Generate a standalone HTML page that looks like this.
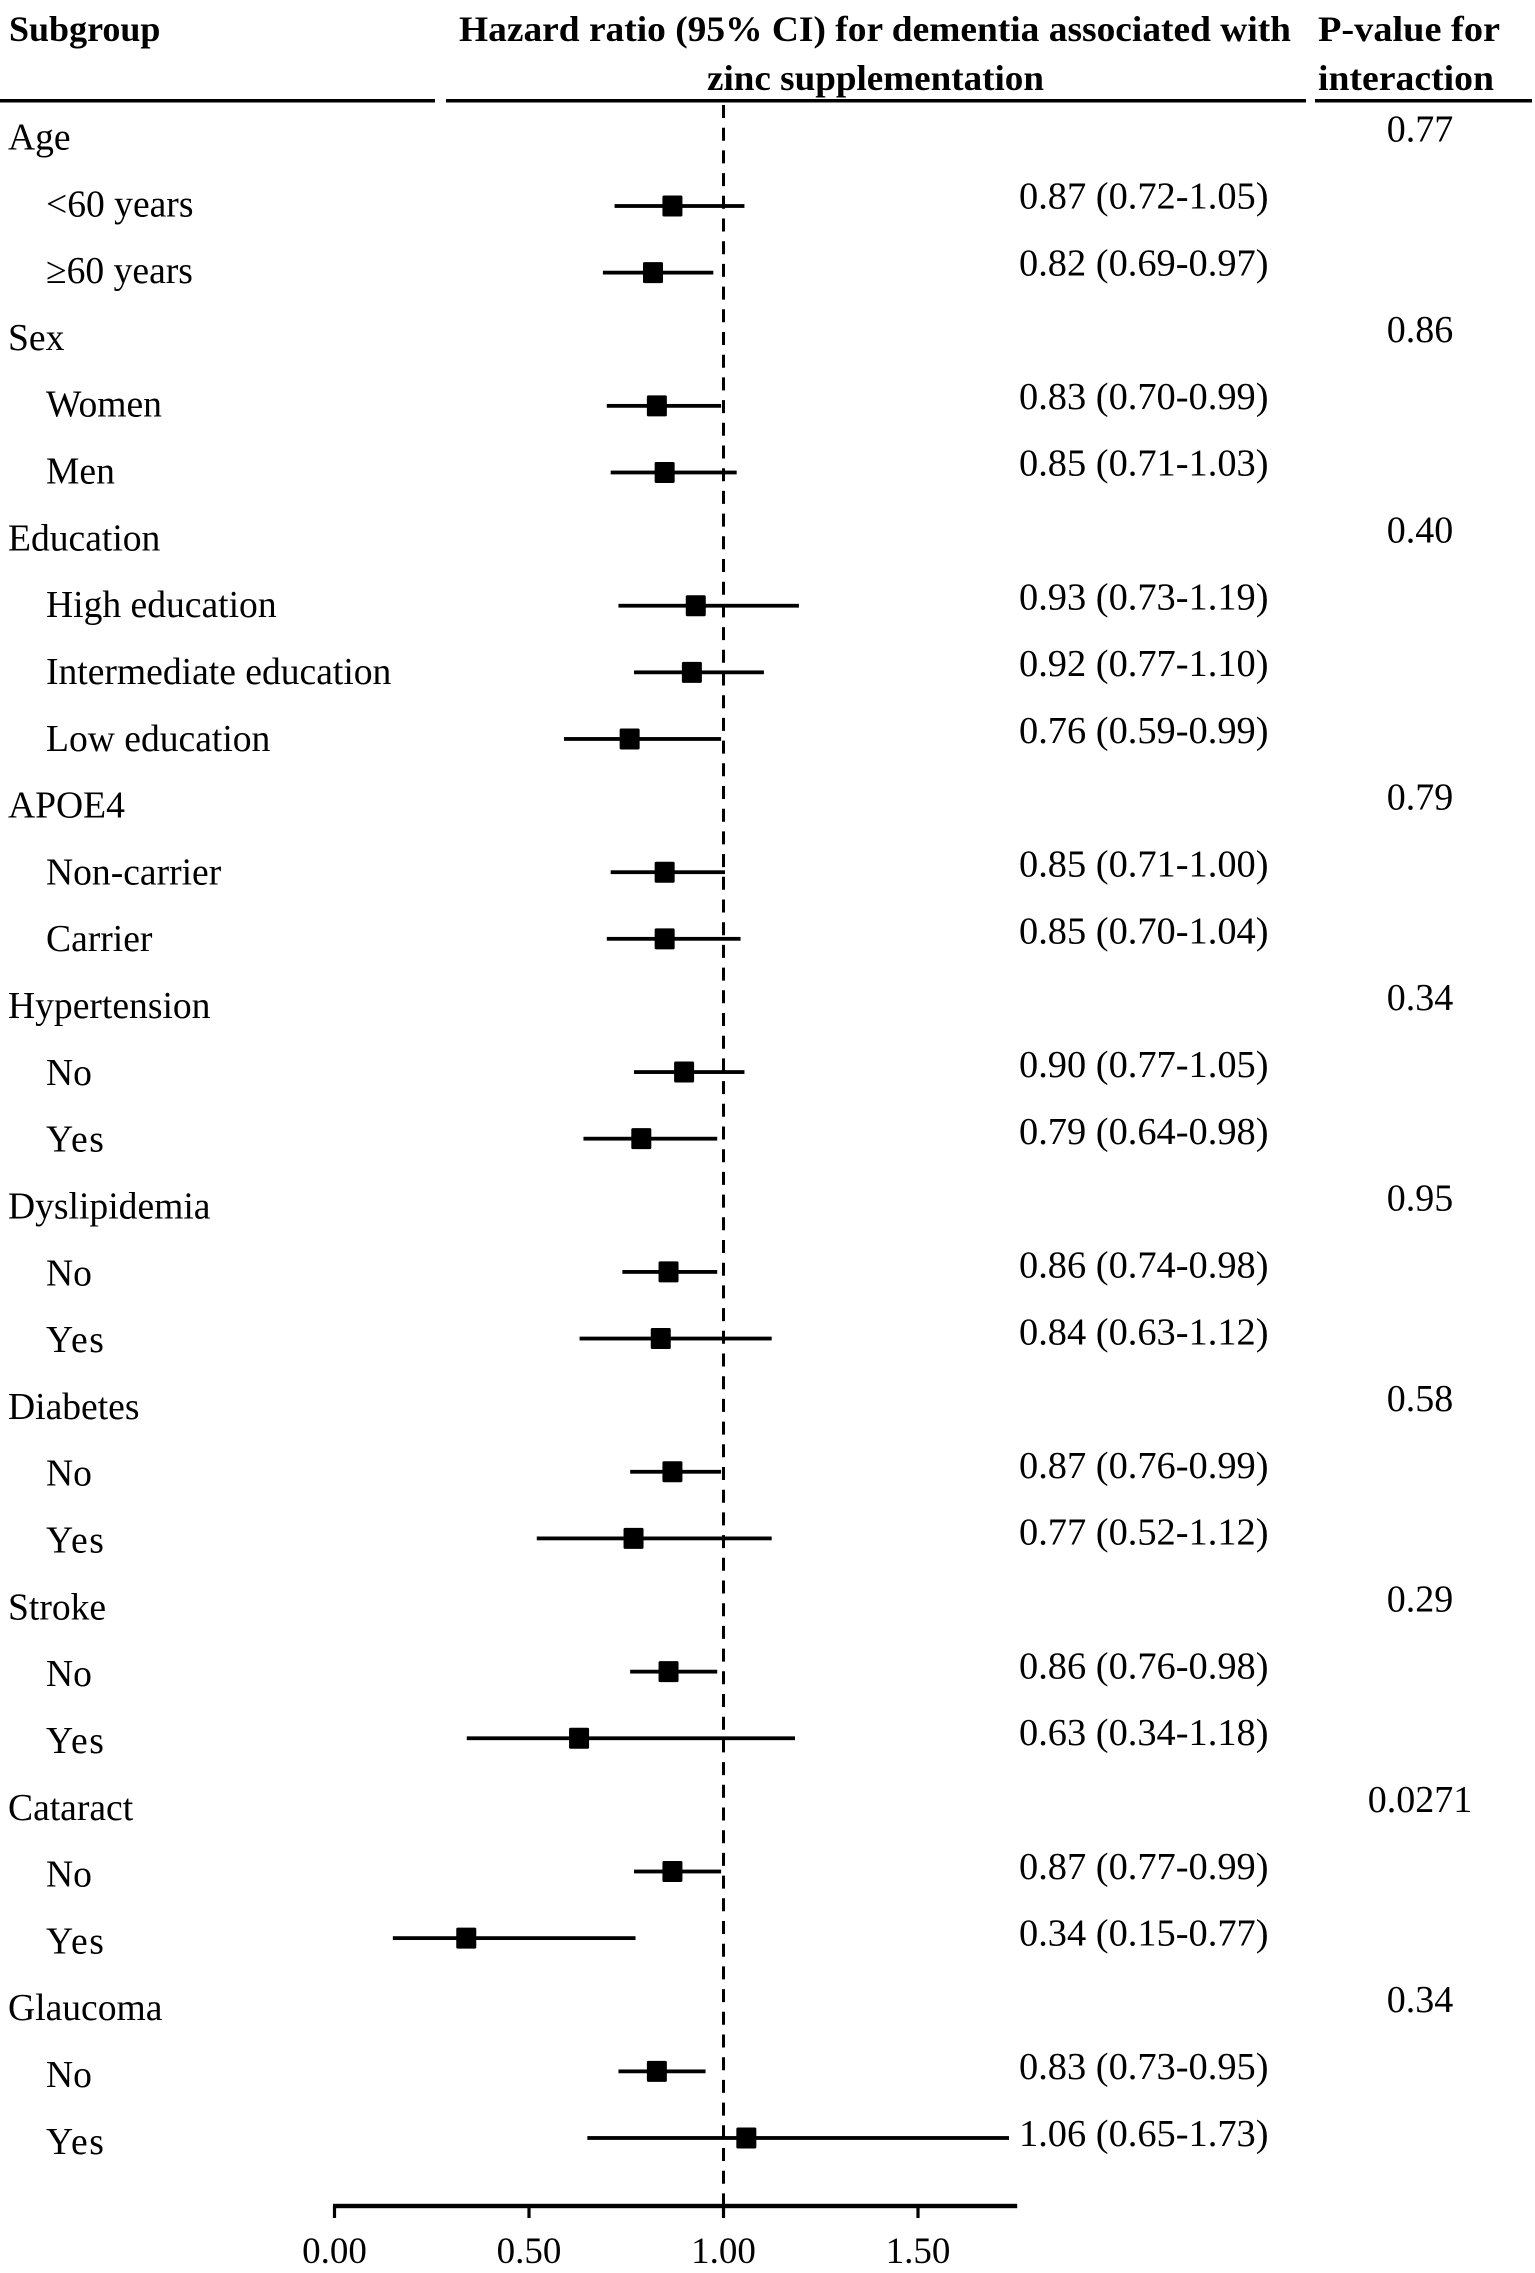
<!DOCTYPE html>
<html lang="en">
<head>
<meta charset="utf-8">
<title>Hazard ratio for dementia associated with zinc supplementation</title>
<style>
html,body{margin:0;padding:0;background:#fff;width:1535px;height:2273px;overflow:hidden}
svg{display:block}
text{font-family:"Liberation Serif","Times New Roman",serif;fill:#000}
.b{font-size:36px;font-weight:bold}
.t{font-size:37.6px}
</style>
</head>
<body>
<svg id="chart" xmlns="http://www.w3.org/2000/svg" width="1535" height="2273" viewBox="0 0 1535 2273">
  <g>
    <text class="b" x="9" y="41">Subgroup</text>
    <text class="b" x="459" y="41" textLength="832" lengthAdjust="spacingAndGlyphs">Hazard ratio (95% CI) for dementia associated with</text>
    <text class="b" x="707" y="90" textLength="337" lengthAdjust="spacingAndGlyphs">zinc supplementation</text>
    <text class="b" x="1318" y="41" textLength="182" lengthAdjust="spacingAndGlyphs">P-value for</text>
    <text class="b" x="1318" y="90" textLength="176" lengthAdjust="spacingAndGlyphs">interaction</text>
    <rect x="0" y="99" width="435" height="3.5" fill="#000"/>
    <rect x="446" y="99" width="860" height="3.5" fill="#000"/>
    <rect x="1315" y="99" width="217" height="3.5" fill="#000"/>
  </g>
  <g id="axis"></g>
  <g id="refline"></g>
  <g id="marks"></g>
  <g id="labels"></g>
  <g id="values"></g>
  <g id="pvalues"></g>
</svg>
<script>
const subgroupLabels = ["Age","<60 years","≥60 years","Sex","Women","Men","Education","High education","Intermediate education","Low education","APOE4","Non-carrier","Carrier","Hypertension","No","Yes","Dyslipidemia","No","Yes","Diabetes","No","Yes","Stroke","No","Yes","Cataract","No","Yes","Glaucoma","No","Yes"];
const hazardRatios = [null,0.87,0.82,null,0.83,0.85,null,0.93,0.92,0.76,null,0.85,0.85,null,0.90,0.79,null,0.86,0.84,null,0.87,0.77,null,0.86,0.63,null,0.87,0.34,null,0.83,1.06];
const ciLower = [null,0.72,0.69,null,0.70,0.71,null,0.73,0.77,0.59,null,0.71,0.70,null,0.77,0.64,null,0.74,0.63,null,0.76,0.52,null,0.76,0.34,null,0.77,0.15,null,0.73,0.65];
const ciUpper = [null,1.05,0.97,null,0.99,1.03,null,1.19,1.10,0.99,null,1.00,1.04,null,1.05,0.98,null,0.98,1.12,null,0.99,1.12,null,0.98,1.18,null,0.99,0.77,null,0.95,1.73];
const interactionP = ["0.77",null,null,"0.86",null,null,"0.40",null,null,null,"0.79",null,null,"0.34",null,null,"0.95",null,null,"0.58",null,null,"0.29",null,null,"0.0271",null,null,"0.34",null,null];
const tickValues = [0, 0.5, 1, 1.5];
const tickLabels = ["0.00","0.50","1.00","1.50"];
const referenceValue = 1;
const axisMax = 1.755;

const NS = "http://www.w3.org/2000/svg";
function xScale(v){ return 334.5 + v * 389; }
function markY(i){ return 206 + (i - 1) * 66.62; }
function labelY(i){ return 149.5 + i * 66.81; }
function valueY(i){ return 208.5 + (i - 1) * 66.81; }
function pY(i){ return 141.5 + i * 66.81; }
function make(tag, attrs, parent, content){
  const el = document.createElementNS(NS, tag);
  for (const k in attrs) el.setAttribute(k, attrs[k]);
  if (content !== undefined) el.textContent = content;
  parent.appendChild(el);
  return el;
}
const axisG = document.getElementById("axis");
const refG = document.getElementById("refline");
const marksG = document.getElementById("marks");
const labelsG = document.getElementById("labels");
const valuesG = document.getElementById("values");
const pG = document.getElementById("pvalues");

const axisY = 2206;
const axisLine = make("rect", {x:xScale(0)-1.5, y:axisY-2.2, width:xScale(axisMax)-xScale(0)+1.5, height:4.4, fill:"#000"}, axisG);



tickValues.forEach(function(v, i){
  const tick = make("rect", {x:xScale(v)-1.6, y:axisY, width:3.2, height:12, fill:"#000"}, axisG);
  
  
  const lab = make("text", {x:xScale(v), y:2263, "text-anchor":"middle", "class":"t", style:"font-size:37px"}, axisG, tickLabels[i]);
  
  
});

const ref = make("line", {x1:xScale(referenceValue), x2:xScale(referenceValue), y1:105, y2:axisY, stroke:"#000", "stroke-width":3, "stroke-dasharray":"13 9.7"}, refG);



subgroupLabels.forEach(function(name, i){
  const isGroup = hazardRatios[i] === null;
  const lab = make("text", {x:isGroup ? 8 : 46, y:labelY(i), "class":"t", style:name === "Yes" ? "letter-spacing:1.6px" : ""}, labelsG, name);
  
  

  if (!isGroup) {
    const y = markY(i);
    const ci = make("rect", {x:xScale(ciLower[i]), y:y-1.9, width:xScale(ciUpper[i])-xScale(ciLower[i])+1.5, height:3.8, fill:"#000"}, marksG);
    
    
    const pt = make("rect", {x:xScale(hazardRatios[i])-10.5, y:y-10.5, width:20, height:21, rx:1.5, fill:"#000"}, marksG);
    
    
    const str = hazardRatios[i].toFixed(2) + " (" + ciLower[i].toFixed(2) + "-" + ciUpper[i].toFixed(2) + ")";
    const val = make("text", {x:1019, y:valueY(i), "class":"t", style:"font-size:38.4px"}, valuesG, str);
    
    
  }
  if (interactionP[i] !== null) {
    const p = make("text", {x:1420, y:pY(i), "text-anchor":"middle", "class":"t", style:"font-size:38px"}, pG, interactionP[i]);
    
    
  }
});
</script>
</body>
</html>
